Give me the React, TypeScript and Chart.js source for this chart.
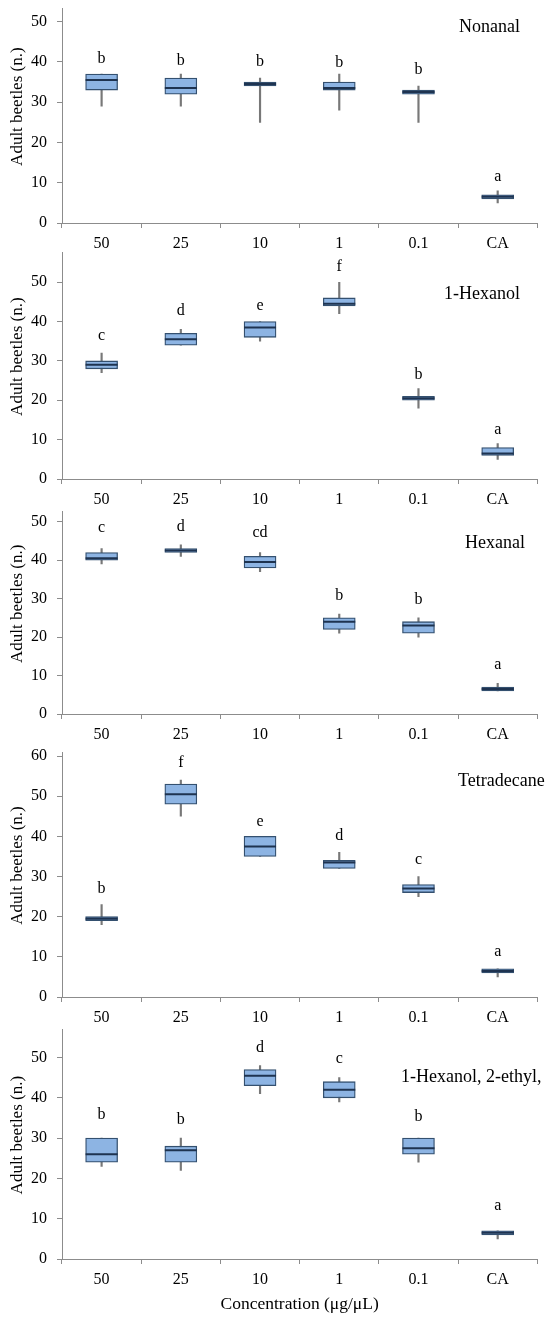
import { useEffect, useRef } from "react"
import { Chart, registerables } from "chart.js"

Chart.register(...registerables)

const FONT = '"Liberation Serif", "Times New Roman", serif'
const AXIS_COLOR = "#8c8c8c"
const BOX_FILL = "#8db4e3"
const BOX_EDGE = "#34506f"
const MEDIAN_COLOR = "#1e3350"
const WHISKER_COLOR = "#787878"

const concentrations = ["50", "25", "10", "1", "0.1", "CA"]

// Nonanal
const nonanalMin = [29, 29, 25, 28, 25, 5]
const nonanalQ1 = [33, 32, 34, 33, 32, 6]
const nonanalMedian = [35.5, 33.5, 34.5, 33.5, 32.5, 6.5]
const nonanalQ3 = [37, 36, 35, 35, 33, 7]
const nonanalMax = [37, 37, 36, 37, 34, 8]
const nonanalLetters = ["b", "b", "b", "b", "b", "a"]
const nonanalLetterY = [40.8, 40.2, 39.9, 39.8, 38.0, 11.4]

// 1-Hexanol
const hexanolMin = [27, 34, 35, 42, 18, 5]
const hexanolQ1 = [28, 34, 36, 44, 20, 6]
const hexanolMedian = [29, 35.5, 38.5, 44.5, 20.5, 6.5]
const hexanolQ3 = [30, 37, 40, 46, 21, 8]
const hexanolMax = [32, 38, 40, 50, 23, 9]
const hexanolLetters = ["c", "d", "e", "f", "b", "a"]
const hexanolLetterY = [36.4, 42.7, 44.0, 54.0, 26.4, 12.6]

// Hexanal
const hexanalMin = [39, 41, 37, 21, 20, 6]
const hexanalQ1 = [40, 42, 38, 22, 21, 6]
const hexanalMedian = [40.5, 42.5, 39.5, 24, 23, 6.5]
const hexanalQ3 = [42, 43, 41, 25, 24, 7]
const hexanalMax = [43, 44, 42, 26, 25, 8]
const hexanalLetters = ["c", "d", "cd", "b", "b", "a"]
const hexanalLetterY = [48.3, 48.8, 47.2, 30.7, 29.7, 12.7]

// Tetradecane
const tetradecaneMin = [18, 45, 35, 32, 25, 5]
const tetradecaneQ1 = [19, 48, 35, 32, 26, 6]
const tetradecaneMedian = [19.5, 50.5, 37.5, 33.5, 27, 6.5]
const tetradecaneQ3 = [20, 53, 40, 34, 28, 7]
const tetradecaneMax = [23, 54, 40, 36, 30, 7]
const tetradecaneLetters = ["b", "f", "e", "d", "c", "a"]
const tetradecaneLetterY = [26.9, 58.2, 43.6, 40.1, 34.1, 11.2]

// 1-Hexanol, 2-ethyl,
const ethylhexanolMin = [23, 22, 41, 39, 24, 5]
const ethylhexanolQ1 = [24, 24, 43, 40, 26, 6]
const ethylhexanolMedian = [26, 27, 45.5, 42, 27.5, 6.5]
const ethylhexanolQ3 = [30, 28, 47, 44, 30, 7]
const ethylhexanolMax = [30, 30, 48, 45, 30, 7]
const ethylhexanolLetters = ["b", "b", "d", "c", "b", "a"]
const ethylhexanolLetterY = [35.8, 34.5, 52.4, 49.8, 35.3, 13.2]

type PanelSpec = {
  name: string
  min: number[]
  q1: number[]
  median: number[]
  q3: number[]
  max: number[]
  letters: string[]
  letterY: number[]
  yMax: number
  axisTop: number
  axisZero: number
  nameX: number
  nameY: number
  xTitle?: string
}

const panels: PanelSpec[] = [
  {
    name: "Nonanal", min: nonanalMin, q1: nonanalQ1, median: nonanalMedian, q3: nonanalQ3, max: nonanalMax,
    letters: nonanalLetters, letterY: nonanalLetterY,
    yMax: 53.3, axisTop: 8.3, axisZero: 222.5, nameX: 459, nameY: 27,
  },
  {
    name: "1-Hexanol", min: hexanolMin, q1: hexanolQ1, median: hexanolMedian, q3: hexanolQ3, max: hexanolMax,
    letters: hexanolLetters, letterY: hexanolLetterY,
    yMax: 57.6, axisTop: 252.3, axisZero: 478.3, nameX: 444, nameY: 294,
  },
  {
    name: "Hexanal", min: hexanalMin, q1: hexanalQ1, median: hexanalMedian, q3: hexanalQ3, max: hexanalMax,
    letters: hexanalLetters, letterY: hexanalLetterY,
    yMax: 52.6, axisTop: 511.7, axisZero: 713.3, nameX: 465, nameY: 543,
  },
  {
    name: "Tetradecane", min: tetradecaneMin, q1: tetradecaneQ1, median: tetradecaneMedian, q3: tetradecaneQ3, max: tetradecaneMax,
    letters: tetradecaneLetters, letterY: tetradecaneLetterY,
    yMax: 61, axisTop: 752, axisZero: 996.7, nameX: 458, nameY: 781,
  },
  {
    name: "1-Hexanol, 2-ethyl,", min: ethylhexanolMin, q1: ethylhexanolQ1, median: ethylhexanolMedian, q3: ethylhexanolQ3, max: ethylhexanolMax,
    letters: ethylhexanolLetters, letterY: ethylhexanolLetterY,
    yMax: 57, axisTop: 1029.3, axisZero: 1259, nameX: 401, nameY: 1077,
    xTitle: "Concentration (μg/μL)",
  },
]

const PAD_TOP = 20
const Y_AXIS_W = 62
const PAD_RIGHT = 12.7

function BoxPanel({ spec }: { spec: PanelSpec }) {
  const canvasRef = useRef<HTMLCanvasElement>(null)
  const chartRef = useRef<Chart | null>(null)

  const xAxisH = spec.xTitle ? 1325 - spec.axisZero : 30
  const canvasTop = Math.round(spec.axisTop - PAD_TOP)
  const padTop = spec.axisTop - canvasTop
  const height = Math.ceil(padTop + spec.axisZero - spec.axisTop + xAxisH)

  useEffect(() => {
    if (!canvasRef.current) return
    if (chartRef.current) chartRef.current.destroy()

    const overlay = {
      id: "boxOverlay",
      afterDatasetsDraw(chart: Chart) {
        const { ctx, chartArea, scales } = chart
        const y = scales.y
        const x = scales.x
        const boxes = chart.getDatasetMeta(0)
        ctx.save()

        // median lines
        ctx.strokeStyle = MEDIAN_COLOR
        ctx.lineWidth = 2
        spec.median.forEach((m, i) => {
          const el = boxes.data[i] as any
          const py = y.getPixelForValue(m)
          ctx.beginPath()
          ctx.moveTo(el.x - el.width / 2, py)
          ctx.lineTo(el.x + el.width / 2, py)
          ctx.stroke()
        })

        // significance letters
        ctx.fillStyle = "#000"
        ctx.font = `16px ${FONT}`
        ctx.textAlign = "center"
        ctx.textBaseline = "middle"
        spec.letters.forEach((l, i) => {
          ctx.fillText(l, x.getPixelForValue(i), y.getPixelForValue(spec.letterY[i]))
        })

        // compound name
        ctx.font = `18px ${FONT}`
        ctx.textAlign = "left"
        ctx.fillText(spec.name, spec.nameX, spec.nameY - canvasTop)

        // y axis title
        ctx.translate(17.7, (chartArea.top + chartArea.bottom) / 2 - 9)
        ctx.rotate(-Math.PI / 2)
        ctx.font = `17px ${FONT}`
        ctx.textAlign = "center"
        ctx.fillText("Adult beetles (n.)", 0, 0)
        ctx.restore()
      },
    }

    chartRef.current = new Chart(canvasRef.current, {
      type: "bar",
      data: {
        labels: concentrations,
        datasets: [
          {
            data: spec.q1.map((q, i) => [q, spec.q3[i]]),
            backgroundColor: BOX_FILL,
            borderColor: BOX_EDGE,
            borderWidth: 1.3,
            borderSkipped: false,
            barThickness: 32,
            grouped: false,
          },
          {
            data: spec.min.map((m, i) => [m, spec.max[i]]),
            backgroundColor: WHISKER_COLOR,
            borderWidth: 0,
            barThickness: 1.5,
            grouped: false,
          },
        ],
      },
      options: {
        responsive: false,
        animation: false,
        layout: { padding: { top: padTop, right: PAD_RIGHT, bottom: 0, left: 0 } },
        plugins: {
          legend: { display: false },
          tooltip: { enabled: false },
        },
        scales: {
          x: {
            grid: { display: true, drawOnChartArea: false, color: AXIS_COLOR, tickLength: 5, offset: true },
            border: { display: true, color: AXIS_COLOR, width: 1 },
            ticks: { color: "#000", font: { family: FONT, size: 16 }, padding: 6, maxRotation: 0 },
            title: spec.xTitle
              ? {
                  display: true,
                  text: spec.xTitle,
                  color: "#000",
                  font: { family: FONT, size: 17.5 },
                  padding: { top: 0, bottom: 10 },
                }
              : { display: false },
            afterFit: (s: any) => {
              s.height = xAxisH
            },
          },
          y: {
            min: 0,
            max: spec.yMax,
            grid: { display: true, drawOnChartArea: false, color: AXIS_COLOR, tickLength: 5 },
            border: { display: true, color: AXIS_COLOR, width: 1 },
            ticks: {
              stepSize: 10,
              includeBounds: false,
              color: "#000",
              font: { family: FONT, size: 16 },
              padding: 10,
            },
            afterFit: (s: any) => {
              s.width = Y_AXIS_W
            },
          },
        },
      },
      plugins: [overlay],
    } as any)

    return () => {
      if (chartRef.current) {
        chartRef.current.destroy()
        chartRef.current = null
      }
    }
  }, [spec])

  return (
    <canvas
      ref={canvasRef}
      width={550}
      height={height}
      style={{ position: "absolute", left: 0, top: canvasTop, width: 550, height }}
    />
  )
}

export default function App() {
  return (
    <div style={{ position: "absolute", left: 0, top: 0, width: 550, height: 1325, background: "#fff", overflow: "hidden" }}>
      {panels.map((p) => (
        <BoxPanel key={p.name} spec={p} />
      ))}
    </div>
  )
}
